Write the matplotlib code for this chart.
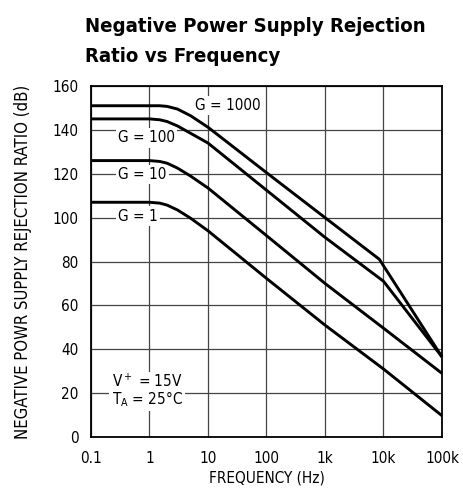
import matplotlib
matplotlib.use("Agg")
import matplotlib.pyplot as plt
from matplotlib import font_manager

# ──────────────────────────────────────────────
# Data
# ──────────────────────────────────────────────
freq_g1000 = [0.1, 1.5, 2, 3, 5, 10, 100, 1000, 8500, 100000]
psrr_g1000 = [151, 151, 150.7, 149.5, 146.5, 141.2, 120.5, 100, 81, 36.5]

freq_g100 = [0.1, 1, 1.5, 2, 3, 5, 10, 100, 1000, 10000, 100000]
psrr_g100 = [145, 145, 144.6, 143.8, 141.8, 138.5, 134, 112.5, 91, 71, 36.5]

freq_g10 = [0.1, 1, 1.5, 2, 3, 5, 10, 100, 1000, 10000, 100000]
psrr_g10 = [126, 126, 125.6, 124.8, 122.6, 119, 113.5, 91.8, 70, 49.6, 29]

freq_g1 = [0.1, 1, 1.5, 2, 3, 5, 10, 100, 1000, 10000, 100000]
psrr_g1 = [107, 107, 106.6, 105.7, 103.5, 99.8, 94, 72.3, 51, 31, 9.7]

x_ticks = [0.1, 1, 10, 100, 1e3, 1e4, 1e5]
x_tick_labels = ["0.1", "1", "10", "100", "1k", "10k", "100k"]
y_ticks = [0, 20, 40, 60, 80, 100, 120, 140, 160]

# label text, anchor frequency, anchor dB
curve_labels = [
    ("G = 1000", 6.0, 151.2),
    ("G = 100", 0.29, 136.3),
    ("G = 10", 0.29, 119.6),
    ("G = 1", 0.29, 100.7),
]

title_lines = ["Negative Power Supply Rejection", "Ratio vs Frequency"]

# ──────────────────────────────────────────────
# Fonts: narrow sans if available
# ──────────────────────────────────────────────
names = {f.name for f in font_manager.fontManager.ttflist}
if "Liberation Sans Narrow" in names:
    FAMILY = ["Liberation Sans Narrow", "DejaVu Sans"]
    STRETCH = "normal"
else:
    FAMILY = ["DejaVu Sans"]
    STRETCH = "condensed"
plt.rcParams["font.family"] = FAMILY
plt.rcParams["font.stretch"] = STRETCH
plt.rcParams["mathtext.fontset"] = "custom"
plt.rcParams["mathtext.rm"] = FAMILY[0]
plt.rcParams["mathtext.it"] = FAMILY[0]

fig = plt.figure(figsize=(4.64, 4.93), dpi=100)
ax = fig.add_axes([91 / 464, 1 - 437 / 493, 351 / 464, 351 / 493])

for fr, db in [(freq_g1000, psrr_g1000), (freq_g100, psrr_g100),
               (freq_g10, psrr_g10), (freq_g1, psrr_g1)]:
    ax.plot(fr, db, color="black", lw=2.1, solid_joinstyle="round",
            solid_capstyle="butt", zorder=3, clip_on=False)

ax.set_xscale("log")
ax.set_xlim(0.1, 1e5)
ax.set_ylim(0, 160)
ax.set_xticks(x_ticks)
ax.set_xticklabels(x_tick_labels)
ax.xaxis.set_minor_locator(matplotlib.ticker.NullLocator())
ax.set_yticks(y_ticks)
ax.tick_params(axis="both", length=0, labelsize=11)
ax.tick_params(axis="y", pad=9)
ax.tick_params(axis="x", pad=10)

ax.grid(True, color="#444444", lw=0.9, zorder=1)
ax.set_axisbelow(True)
for sp in ax.spines.values():
    sp.set_linewidth(1.3)

box = dict(facecolor="white", edgecolor="none", pad=1.5)
for txt, f, db in curve_labels:
    ax.text(f, db, txt, fontsize=11, ha="left", va="center", bbox=box, zorder=2)

ax.text(0.225, 21, "V$^+$ = 15V\nT$_\\mathregular{A}$ = 25°C", fontsize=11,
        ha="left", va="center", linespacing=0.95, bbox=box, zorder=2)

ax.set_xlabel("FREQUENCY (Hz)", fontsize=11, labelpad=3)
ax.set_ylabel("NEGATIVE POWR SUPPLY REJECTION RATIO (dB)", fontsize=12,
              labelpad=15)

# title, one baseline per line
for line, base in zip(title_lines, [32, 62]):
    fig.text(85 / 464, 1 - base / 493, line, fontsize=14.6, fontweight="bold",
             ha="left", va="baseline")

fig.savefig("out.png", dpi=100)
